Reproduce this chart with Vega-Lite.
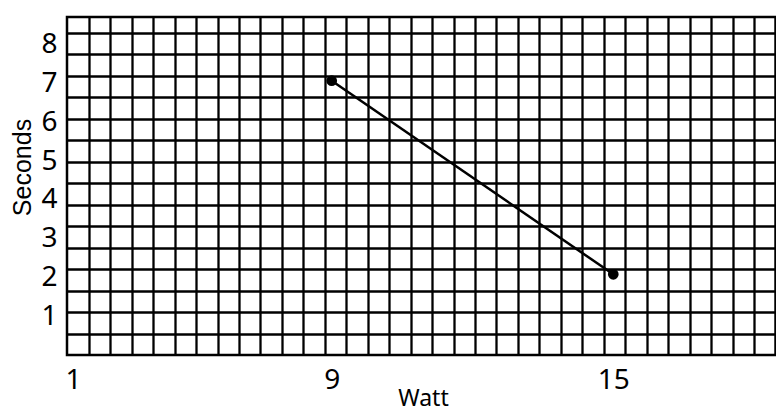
{
  "$schema": "https://vega.github.io/schema/vega-lite/v6.json",
  "autosize": "none",
  "padding": {"left": 67, "top": 17, "right": 0, "bottom": 57},
  "width": 709,
  "height": 338,
  "background": "white",
  "config": {
    "view": {"stroke": "black", "strokeWidth": 2.5},
    "axis": {"domain": false, "ticks": false}
  },
  "data": {"values": [
    {"Watt": 9, "Seconds": 7},
    {"Watt": 15, "Seconds": 2}
  ]},
  "resolve": {"axis": {"x": "independent", "y": "independent"}},
  "layer": [
    {
      "mark": {"type": "line", "color": "black", "strokeWidth": 2.5},
      "encoding": {
        "x": {"field": "Watt", "type": "quantitative",
          "scale": {"domain": [3.36, 18.467], "nice": false, "zero": false},
          "axis": {"orient": "bottom", "title": null, "labels": false, "grid": true,
            "gridColor": "black", "gridWidth": 2.3, "gridOpacity": 1,
            "values": [3.8238, 4.281, 4.7383, 5.1955, 5.6528, 6.11, 6.5673, 7.0245, 7.4818, 7.939, 8.3963, 8.8535, 9.3108, 9.768, 10.2253, 10.6825, 11.1398, 11.597, 12.0543, 12.5115, 12.9688, 13.426, 13.8833, 14.3405, 14.7978, 15.255, 15.7123, 16.1695, 16.6268, 17.084, 17.5413, 17.9985, 18.4558]}},
        "y": {"field": "Seconds", "type": "quantitative",
          "scale": {"domain": [-0.084, 8.645], "nice": false, "zero": false},
          "axis": {"orient": "left", "title": null, "labels": false, "grid": true,
            "gridColor": "black", "gridWidth": 2.3, "gridOpacity": 1,
            "values": [8.2397, 7.6847, 7.1297, 6.5747, 6.0197, 5.4647, 4.9097, 4.3547, 3.7997, 3.2447, 2.6897, 2.1347, 1.5797, 1.0247, 0.4697]}}
      }
    },
    {
      "mark": {"type": "point", "filled": true, "color": "black", "size": 115, "opacity": 1},
      "encoding": {
        "x": {"field": "Watt", "type": "quantitative",
          "axis": {"orient": "bottom", "title": "Watt", "grid": false,
            "values": [3.49, 9, 15],
            "labelExpr": "datum.value < 5 ? '1' : datum.label",
            "labelFont": "Noto Sans", "labelFontSize": 28, "labelColor": "black",
            "labelPadding": 11, "labelFlush": false,
            "titleFont": "Noto Sans", "titleFontSize": 23, "titleFontWeight": "normal", "titleColor": "black",
            "titleX": 356, "titleY": 50, "titleBaseline": "alphabetic", "titleAlign": "center"}},
        "y": {"field": "Seconds", "type": "quantitative",
          "axis": {"orient": "left", "title": "Seconds", "grid": false,
            "values": [1, 2, 3, 4, 5, 6, 7, 8],
            "labelFont": "Noto Sans", "labelFontSize": 28, "labelColor": "black",
            "labelPadding": 10, "labelOffset": 3,
            "titleFont": "Liberation Sans", "titleFontSize": 25, "titleFontWeight": "normal", "titleColor": "black",
            "titleX": -45, "titleY": 150, "titleAngle": 270, "titleBaseline": "middle", "titleAlign": "center"}}
      }
    }
  ]
}
